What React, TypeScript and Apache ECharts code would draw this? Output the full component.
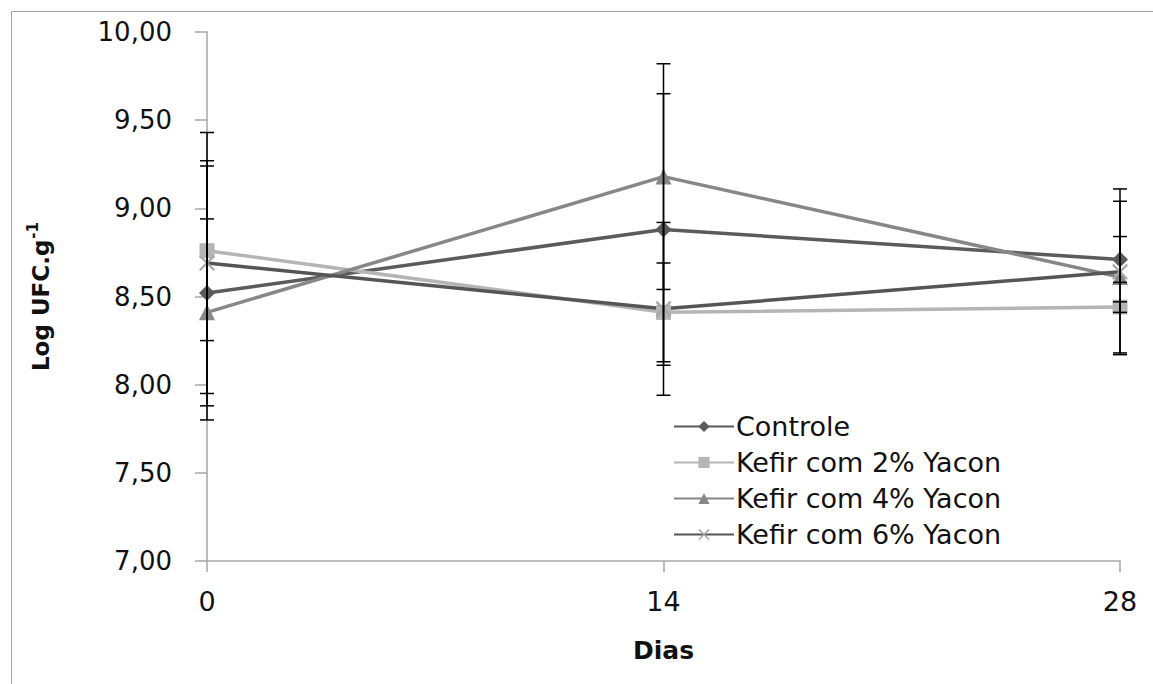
import React, { useEffect, useRef } from "react";
import * as echarts from "echarts";

const days = [0, 14, 28];
const yTicks = [7, 7.5, 8, 8.5, 9, 9.5, 10];

const seriesNames = ["Controle", "Kefir com 2% Yacon", "Kefir com 4% Yacon", "Kefir com 6% Yacon"];
const controle = [8.52, 8.88, 8.71];
const controleErr = [0.72, 0.77, 0.13];
const yacon2 = [8.76, 8.41, 8.44];
const yacon2Err = [0.51, 0.28, 0.03];
const yacon4 = [8.41, 9.18, 8.61];
const yacon4Err = [0.53, 0.64, 0.43];
const yacon6 = [8.69, 8.43, 8.64];
const yacon6Err = [0.74, 0.49, 0.47];

const FONT = "DejaVu Sans";
const X_SYMBOL = "path://M0,1L1,0L10,9L9,10ZM9,0L10,1L1,10L0,9Z";

export default function App() {
  const ref = useRef<HTMLDivElement>(null);
  useEffect(() => {
    if (!ref.current) return;
    const chart = echarts.init(ref.current, undefined, { renderer: "svg" });
    const values = [controle, yacon2, yacon4, yacon6];
    const errs = [controleErr, yacon2Err, yacon4Err, yacon6Err];
    const lineColors = ["#5b5b5b", "#b5b5b5", "#878787", "#555555"];
    const markerColors = ["#5b5b5b", "#b5b5b5", "#878787", "#a8a8a8"];
    const symbols = ["diamond", "rect", "triangle", X_SYMBOL];
    const symbolSizes = [16, 15, 16, 16];

    const lineSeries = values.map((v, i) => ({
      name: seriesNames[i],
      type: "line",
      data: days.map((d, j) => [d, v[j]]),
      symbol: symbols[i],
      symbolSize: symbolSizes[i],
      showAllSymbol: true,
      lineStyle: { color: lineColors[i], width: 3.5 },
      itemStyle: { color: markerColors[i] },
      z: 3,
    }));

    const errData: number[][] = [];
    values.forEach((v, i) => {
      days.forEach((d, j) => errData.push([d, v[j], errs[i][j]]));
    });

    const errSeries = {
      type: "custom",
      name: "err",
      data: errData,
      z: 5,
      silent: true,
      renderItem: (params: any, api: any) => {
        const x = api.value(0);
        const y = api.value(1);
        const e = api.value(2);
        const top = api.coord([x, y + e]);
        const bot = api.coord([x, y - e]);
        const hw = 7;
        const style = { stroke: "#000", lineWidth: 1.5 };
        return {
          type: "group",
          children: [
            { type: "line", shape: { x1: top[0], y1: top[1], x2: bot[0], y2: bot[1] }, style },
            { type: "line", shape: { x1: top[0] - hw, y1: top[1], x2: top[0] + hw, y2: top[1] }, style },
            { type: "line", shape: { x1: bot[0] - hw, y1: bot[1], x2: bot[0] + hw, y2: bot[1] }, style },
          ],
        };
      },
    };

    chart.setOption({
      animation: false,
      backgroundColor: "#ffffff",
      textStyle: { fontFamily: FONT },
      grid: { left: 207, right: 33, top: 32, bottom: 123, containLabel: false },
      graphic: [
        {
          type: "rect",
          shape: { x: 11.5, y: 11.5, width: 1160, height: 700 },
          style: { fill: "none", stroke: "#a6a6a6", lineWidth: 1 },
          silent: true,
        },
      ],
      legend: {
        orient: "vertical",
        left: 668,
        top: 406,
        itemWidth: 60,
        itemHeight: 14,
        itemGap: 5,
        data: seriesNames,
        textStyle: { fontFamily: FONT, fontSize: 27, color: "#111", lineHeight: 31, padding: [0, 0, 0, -3] },
      },
      xAxis: {
        type: "value",
        min: 0,
        max: 28,
        interval: 14,
        name: "Dias",
        nameLocation: "middle",
        nameGap: 77,
        nameTextStyle: { fontFamily: FONT, fontSize: 25, fontWeight: "bold", color: "#111" },
        axisLine: { show: true, lineStyle: { color: "#a6a6a6", width: 1.5 } },
        axisTick: { show: true, length: 11, inside: false, lineStyle: { color: "#a6a6a6", width: 1.5 } },
        axisLabel: { fontFamily: FONT, fontSize: 27, color: "#111", margin: 27 },
        splitLine: { show: false },
      },
      yAxis: {
        type: "value",
        min: 7,
        max: 10,
        interval: 0.5,
        name: "{a|Log UFC.g}{b|-1}",
        nameLocation: "middle",
        nameGap: 155,
        nameRotate: 90,
        nameTextStyle: {
          fontFamily: FONT,
          fontWeight: "bold",
          color: "#111",
          rich: {
            a: { fontFamily: FONT, fontSize: 23, fontWeight: "bold", color: "#111", verticalAlign: "bottom" },
            b: { fontFamily: FONT, fontSize: 15, fontWeight: "bold", color: "#111", verticalAlign: "top", padding: [0, 0, 12, 1] },
          },
        },
        axisLine: { show: true, lineStyle: { color: "#a6a6a6", width: 1.5 } },
        axisTick: { show: true, length: 12, inside: false, lineStyle: { color: "#a6a6a6", width: 1.5 } },
        axisLabel: {
          fontFamily: FONT,
          fontSize: 26,
          color: "#111",
          margin: 35,
          formatter: (v: number) => (yTicks.includes(v) ? v.toFixed(2).replace(".", ",") : ""),
        },
        splitLine: { show: false },
      },
      series: [...lineSeries, errSeries],
    });
    return () => chart.dispose();
  }, []);
  return (
    <div
      ref={ref}
      style={{ position: "fixed", left: 0, top: 0, width: 1153, height: 684, background: "#fff" }}
    />
  );
}
